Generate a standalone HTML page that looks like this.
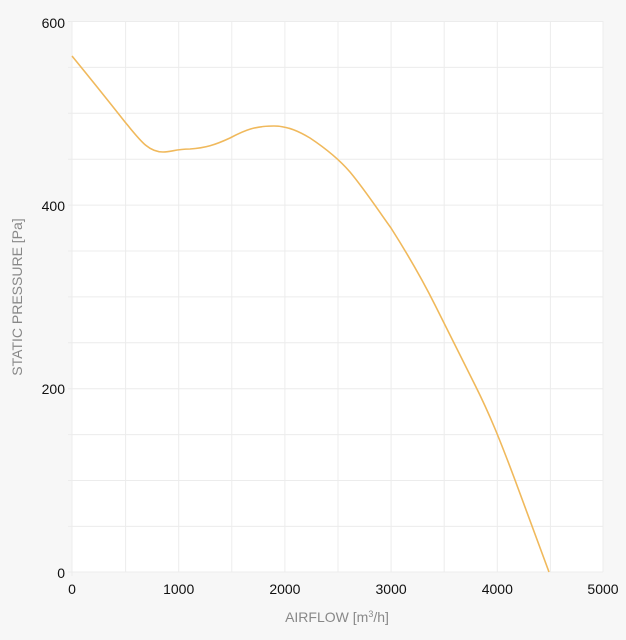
<!DOCTYPE html>
<html><head><style>
body{margin:0;background:#f7f7f7;font-family:"Liberation Sans",sans-serif;}
</style></head><body>
<svg width="626" height="635" xmlns="http://www.w3.org/2000/svg">
<rect width="626" height="635" fill="#f7f7f7"/>
<rect x="72" y="21" width="531" height="551" fill="#fff"/>
<g stroke="#ececec" stroke-width="1">
<line x1="125.6" y1="21" x2="125.6" y2="572"/><line x1="178.7" y1="21" x2="178.7" y2="572"/>
<line x1="231.8" y1="21" x2="231.8" y2="572"/><line x1="284.9" y1="21" x2="284.9" y2="572"/>
<line x1="338" y1="21" x2="338" y2="572"/><line x1="391.1" y1="21" x2="391.1" y2="572"/>
<line x1="444.2" y1="21" x2="444.2" y2="572"/><line x1="497.3" y1="21" x2="497.3" y2="572"/>
<line x1="550.4" y1="21" x2="550.4" y2="572"/><line x1="603" y1="21" x2="603" y2="572"/>
<line x1="68" y1="21.5" x2="603" y2="21.5"/><line x1="68" y1="67.4" x2="603" y2="67.4"/>
<line x1="68" y1="113.3" x2="603" y2="113.3"/><line x1="68" y1="159.2" x2="603" y2="159.2"/>
<line x1="68" y1="205.1" x2="603" y2="205.1"/><line x1="68" y1="251" x2="603" y2="251"/>
<line x1="68" y1="296.9" x2="603" y2="296.9"/><line x1="68" y1="342.8" x2="603" y2="342.8"/>
<line x1="68" y1="388.7" x2="603" y2="388.7"/><line x1="68" y1="434.6" x2="603" y2="434.6"/>
<line x1="68" y1="480.5" x2="603" y2="480.5"/><line x1="68" y1="526.4" x2="603" y2="526.4"/>
<line x1="68" y1="572" x2="603" y2="572"/>
<line x1="72" y1="21" x2="72" y2="576"/>
</g>
<path d="M72,56 C90,78 110,103 125,122 C140,140 148,152 163,152 C172,152 175,149 190,149 C205,148 215,145 230,138 C245,130 255,126 274,126 C288,126 300,132 310,138 C325,148 338,158 350,172 C365,190 378,210 391,228 C405,250 420,275 435,305 C450,335 460,355 475,385 C490,415 500,440 515,480 C528,515 540,548 549,572" fill="none" stroke="#f0b95c" stroke-width="1.6"/>
<g font-size="14" fill="#111">
<text x="65" y="28" text-anchor="end">600</text>
<text x="65" y="211" text-anchor="end">400</text>
<text x="65" y="394" text-anchor="end">200</text>
<text x="65" y="578" text-anchor="end">0</text>
<text x="72" y="594" text-anchor="middle">0</text>
<text x="178.7" y="594" text-anchor="middle">1000</text>
<text x="284.9" y="594" text-anchor="middle">2000</text>
<text x="391.1" y="594" text-anchor="middle">3000</text>
<text x="497.3" y="594" text-anchor="middle">4000</text>
<text x="603" y="594" text-anchor="middle">5000</text>
</g>
<text x="337" y="622" text-anchor="middle" font-size="14" fill="#888">AIRFLOW [m<tspan dy="-5" font-size="9">3</tspan><tspan dy="5">/h]</tspan></text>
<text transform="translate(22,297) rotate(-90)" text-anchor="middle" font-size="14" fill="#888">STATIC PRESSURE [Pa]</text>
</svg>
</body></html>
